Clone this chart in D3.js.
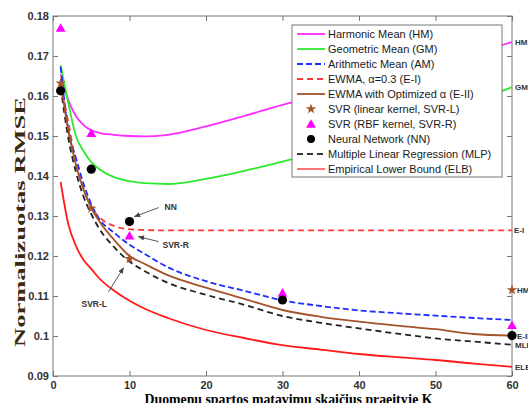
<!DOCTYPE html>
<html>
<head>
<meta charset="utf-8">
<script src="https://cdn.jsdelivr.net/npm/d3@7"></script>
<style>
  body { margin: 0; background: #fff; }
  svg { display: block; }
  .tick text { font-family: "Liberation Sans", Arial, sans-serif; font-size: 11px; font-weight: bold; fill: #333; }
  .tick line { stroke: #777; }
</style>
</head>
<body>
<svg id="chart" width="528" height="403"></svg>
<script>
// K values the curves are sampled at
var K = [1, 2, 3, 4, 5, 6, 8, 10, 12, 15, 20, 25, 30, 35, 40, 45, 50, 55, 60];

var hm  = [0.1655, 0.1590, 0.1550, 0.1527, 0.1514, 0.1508, 0.1503, 0.1500, 0.1499, 0.1503, 0.1524, 0.1550, 0.1578, 0.1601, 0.1625, 0.1651, 0.1677, 0.1705, 0.1735];
var gm  = [0.1677, 0.1582, 0.1500, 0.1462, 0.1435, 0.1418, 0.1397, 0.1387, 0.1382, 0.1380, 0.1393, 0.1413, 0.1436, 0.1463, 0.1492, 0.1522, 0.1553, 0.1586, 0.1622];
var am  = [0.1673, 0.1515, 0.1445, 0.1380, 0.1330, 0.1294, 0.1258, 0.1228, 0.1205, 0.1172, 0.1137, 0.1113, 0.1089, 0.1075, 0.1064, 0.1057, 0.1051, 0.1045, 0.1040];
var ei  = [0.1625, 0.1535, 0.1430, 0.1370, 0.1322, 0.1298, 0.1275, 0.1267, 0.1265, 0.1264, 0.1264, 0.1264, 0.1264, 0.1264, 0.1264, 0.1264, 0.1264, 0.1264, 0.1264];
var e2  = [0.1632, 0.1515, 0.1428, 0.1365, 0.1320, 0.1288, 0.1240, 0.1200, 0.1180, 0.1152, 0.1121, 0.1093, 0.1065, 0.1048, 0.1036, 0.1026, 0.1017, 0.1005, 0.1001];
var mlr = [0.1622, 0.1495, 0.1410, 0.1348, 0.1305, 0.1270, 0.1222, 0.1186, 0.1162, 0.1133, 0.1103, 0.1078, 0.1050, 0.1033, 0.1019, 0.1006, 0.0994, 0.0986, 0.0978];
var elb = [0.1385, 0.1280, 0.1225, 0.1190, 0.1168, 0.1145, 0.1113, 0.1088, 0.1068, 0.1045, 0.1015, 0.0995, 0.0977, 0.0966, 0.0955, 0.0947, 0.0940, 0.0931, 0.0923];

// single points
var svrLK = [1, 5, 10, 60];
var svrL  = [0.1632, 0.1319, 0.1193, 0.1115];
var svrRK = [1, 5, 10, 30, 60];
var svrR  = [0.1770, 0.1507, 0.1251, 0.1108, 0.1027];
var nnK   = [1, 5, 10, 30, 60];
var nn    = [0.1613, 0.1417, 0.1286, 0.1090, 0.1001];

var legendLabels = [
  'Harmonic Mean (HM)',
  'Geometric Mean (GM)',
  'Arithmetic Mean (AM)',
  'EWMA, \u03b1=0.3 (E-I)',
  'EWMA with Optimized \u03b1 (E-II)',
  'SVR (linear kernel, SVR-L)',
  'SVR (RBF kernel, SVR-R)',
  'Neural Network (NN)',
  'Multiple Linear Regression (MLP)',
  'Empirical Lower Bound (ELB)'
];

var xTicks = [0, 10, 20, 30, 40, 50, 60];
var yTicks = [0.09, 0.10, 0.11, 0.12, 0.13, 0.14, 0.15, 0.16, 0.17, 0.18];

var margin = {top: 16, left: 53, right: 16, bottom: 27}
  , width = 528 - margin.left - margin.right
  , height = 403 - margin.top - margin.bottom;

var svg = d3.select('#chart');

var x = d3.scaleLinear().domain([0, 60]).range([margin.left, margin.left + width]);
var y = d3.scaleLinear().domain([0.09, 0.18]).range([margin.top + height, margin.top]);

var brown = '#a5532a';

// arrow head for the annotations
svg.append('defs').append('marker')
    .attr('id', 'arr')
    .attr('viewBox', '0 0 10 10')
    .attr('refX', 9).attr('refY', 5)
    .attr('markerWidth', 7).attr('markerHeight', 7)
    .attr('orient', 'auto')
  .append('path')
    .attr('d', 'M0,1 L10,5 L0,9 Z')
    .attr('fill', '#444');

// axes, ticks point inward
svg.append('g')
    .attr('transform', 'translate(' + margin.left + ',0)')
    .call(d3.axisLeft(y).tickValues(yTicks).tickSizeInner(-5).tickSizeOuter(0).tickPadding(4)
      .tickFormat(d3.format('.2~f')))
    .call(function(g) { g.select('.domain').remove(); });

svg.append('g')
    .attr('transform', 'translate(0,' + (margin.top + height) + ')')
    .call(d3.axisBottom(x).tickValues(xTicks).tickSizeInner(-5).tickSizeOuter(0).tickPadding(5))
    .call(function(g) { g.select('.domain').remove(); });

svg.append('g')
    .attr('transform', 'translate(' + (margin.left + width) + ',0)')
    .call(d3.axisRight(y).tickValues(yTicks).tickSizeInner(-5).tickSizeOuter(0).tickFormat(''))
    .call(function(g) { g.select('.domain').remove(); });

svg.append('g')
    .attr('transform', 'translate(0,' + margin.top + ')')
    .call(d3.axisTop(x).tickValues(xTicks).tickSizeInner(-5).tickSizeOuter(0).tickFormat(''))
    .call(function(g) { g.select('.domain').remove(); });

svg.append('rect')
    .attr('x', margin.left).attr('y', margin.top)
    .attr('width', width).attr('height', height)
    .attr('fill', 'none').attr('stroke', '#777');

var line = d3.line()
    .x(function(d) { return x(d[0]); })
    .y(function(d) { return y(d[1]); })
    .curve(d3.curveMonotoneX);

var series = [
  {vals: hm,  color: '#ff2bff', dash: null},
  {vals: gm,  color: '#2ee82e', dash: null},
  {vals: elb, color: '#ff1a1a', dash: null},
  {vals: ei,  color: '#ff3838', dash: '6,4'},
  {vals: am,  color: '#1f2eff', dash: '6,3'},
  {vals: mlr, color: '#222',    dash: '6,4'},
  {vals: e2,  color: brown,     dash: null}
];

series.forEach(function(s) {
  svg.append('path')
      .datum(K.map(function(k, i) { return [k, s.vals[i]]; }))
      .attr('fill', 'none')
      .attr('stroke', s.color)
      .attr('stroke-width', 1.8)
      .attr('stroke-dasharray', s.dash)
      .attr('d', line);
});

var star = d3.symbol().type(d3.symbolStar).size(34);
var tri = d3.symbol().type(d3.symbolTriangle).size(42);

svg.selectAll('.tri')
    .data(svrRK.map(function(k, i) { return [k, svrR[i]]; }))
    .enter().append('path')
    .attr('transform', function(d) { return 'translate(' + x(d[0]) + ',' + (y(d[1]) + 1) + ')'; })
    .attr('d', tri)
    .attr('fill', '#ff00ff');

svg.selectAll('.nn')
    .data(nnK.map(function(k, i) { return [k, nn[i]]; }))
    .enter().append('circle')
    .attr('cx', function(d) { return x(d[0]); })
    .attr('cy', function(d) { return y(d[1]); })
    .attr('r', 4.6)
    .attr('fill', '#000');

svg.selectAll('.star')
    .data(svrLK.map(function(k, i) { return [k, svrL[i]]; }))
    .enter().append('path')
    .attr('transform', function(d) { return 'translate(' + x(d[0]) + ',' + y(d[1]) + ')'; })
    .attr('d', star)
    .attr('fill', brown);

// labels at the right edge (the reference clips them at the border)
var last = K.length - 1;
var endLabels = [
  {t: 'HM',   v: hm[last],  dx: 3},
  {t: 'GM',   v: gm[last],  dx: 3},
  {t: 'E-I',  v: ei[last],  dx: 2},
  {t: 'HM',   v: svrL[3],   dx: 5},
  {t: 'E-II', v: e2[last],  dx: 5},
  {t: 'MLP',  v: mlr[last], dx: 3},
  {t: 'ELB',  v: elb[last], dx: 3}
];
svg.selectAll('.endlab')
    .data(endLabels)
    .enter().append('text')
    .attr('x', function(d) { return x(60) + d.dx; })
    .attr('y', function(d) { return y(d.v) + 3; })
    .attr('font-family', 'Liberation Sans, Arial, sans-serif')
    .attr('font-size', 8)
    .attr('font-weight', 'bold')
    .attr('fill', '#333')
    .text(function(d) { return d.t; });

// annotations
function note(txt, tx, ty, x1, y1, x2, y2) {
  svg.append('line')
      .attr('x1', x1).attr('y1', y1).attr('x2', x2).attr('y2', y2)
      .attr('stroke', '#444').attr('stroke-width', 0.9)
      .attr('marker-end', 'url(#arr)');
  svg.append('text')
      .attr('x', tx).attr('y', ty)
      .attr('font-family', 'Liberation Sans, Arial, sans-serif')
      .attr('font-size', 8.5).attr('font-weight', 'bold')
      .attr('fill', '#333')
      .text(txt);
}
note('NN', x(10) + 35, y(nn[2]) - 12, x(10) + 29, y(nn[2]) - 14, x(10) + 5, y(nn[2]) - 5);
note('SVR-R', x(10) + 33, y(svrR[2]) + 12, x(10) + 29, y(svrR[2]) + 6, x(10) + 9, y(svrR[2]) + 1);
note('SVR-L', x(10) - 48, y(svrL[2]) + 48, x(10) - 21, y(svrL[2]) + 33, x(10) - 6, y(svrL[2]) + 9);

// legend
var lg = svg.append('g').attr('transform', 'translate(292,25)');
lg.append('rect')
    .attr('width', 210).attr('height', 152)
    .attr('fill', '#fff').attr('stroke', '#777');

var legendStyle = [
  {color: '#ff2bff', dash: null, kind: 'line'},
  {color: '#2ee82e', dash: null, kind: 'line'},
  {color: '#1f2eff', dash: '6,3', kind: 'line'},
  {color: '#ff3838', dash: '6,4', kind: 'line'},
  {color: brown, dash: null, kind: 'line'},
  {color: brown, kind: 'star'},
  {color: '#ff00ff', kind: 'tri'},
  {color: '#000', kind: 'dot'},
  {color: '#333', dash: '6,4', kind: 'line'},
  {color: '#ff1a1a', dash: null, kind: 'line', w: 1.2}
];

var items = lg.selectAll('.item')
    .data(legendLabels)
    .enter().append('g')
    .attr('transform', function(d, i) { return 'translate(0,' + (9 + i * 15) + ')'; });

items.each(function(d, i) {
  var g = d3.select(this), st = legendStyle[i];
  if (st.kind === 'line') {
    g.append('line').attr('x1', 5).attr('x2', 33).attr('y1', 0).attr('y2', 0)
      .attr('stroke', st.color).attr('stroke-width', st.w || 1.8)
      .attr('stroke-dasharray', st.dash);
  } else if (st.kind === 'star') {
    g.append('path').attr('transform', 'translate(19,0)').attr('d', star).attr('fill', st.color);
  } else if (st.kind === 'tri') {
    g.append('path').attr('transform', 'translate(19,1)').attr('d', tri).attr('fill', st.color);
  } else {
    g.append('circle').attr('cx', 19).attr('r', 4).attr('fill', st.color);
  }
  g.append('text')
      .attr('x', 36).attr('y', 4)
      .attr('font-family', 'Liberation Sans, Arial, sans-serif')
      .attr('font-size', 11)
      .attr('fill', '#1a1a1a')
      .text(d);
});

// axis titles
svg.append('text')
    .attr('x', (x(0) + x(60)) / 2 + 6)
    .attr('y', 404)
    .attr('text-anchor', 'middle')
    .attr('font-family', 'Liberation Serif, Times New Roman, serif')
    .attr('font-size', 14)
    .attr('font-weight', 'bold')
    .attr('textLength', 288)
    .attr('lengthAdjust', 'spacingAndGlyphs')
    .text('Duomenų spartos matavimų skaičius praeityje K');

svg.append('text')
    .attr('transform', 'translate(25,222) rotate(-90)')
    .attr('text-anchor', 'middle')
    .attr('font-family', 'Liberation Serif, Times New Roman, serif')
    .attr('font-size', 15)
    .attr('font-weight', 'bold')
    .attr('fill', '#3a2a10')
    .attr('textLength', 250)
    .attr('lengthAdjust', 'spacingAndGlyphs')
    .text('Normalizuotas RMSE');
</script>
</body>
</html>
